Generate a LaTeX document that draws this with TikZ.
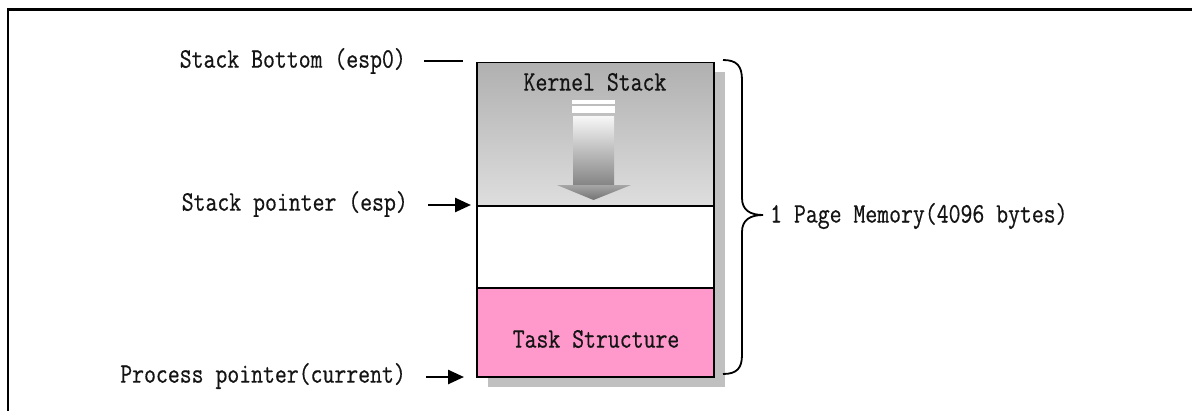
\documentclass[tikz,border=0pt]{standalone}
\usepackage{fontspec}
\usetikzlibrary{arrows.meta}
\newfontfamily\monofont{Latin Modern Mono}[FakeBold=0.6]
\definecolor{pinkfill}{HTML}{FF99CC}
\definecolor{shadowgray}{HTML}{C0C0C0}
\newcommand{\mylbl}[1]{\scalebox{1}[1.22]{\fontsize{23.1}{27}\monofont #1}}
\tikzset{
  sect/.style={draw, line width=1.5pt, anchor=north west, inner sep=0pt, outer sep=0pt, minimum width=237pt},
  lbl/.style={inner sep=0pt, text=black!92},
  ptr/.style={line width=2.5pt, -{Triangle[length=16pt,width=14pt]}},
}
\begin{document}
\begin{tikzpicture}[x=1pt,y=-1pt]
\useasboundingbox (0,0) rectangle (1192,410);
% outer frame
\draw[line width=2.5pt] (1193,9.5) -- (8,9.5) -- (8,411);
% shadow
\fill[shadowgray] (488,72) rectangle (725,387);
% sections
\node[sect, minimum height=143.5pt, top color=black!31, bottom color=black!13] (kernel) at (477,62.5) {};
\node[sect, minimum height=82pt, fill=white] (free) at (477,206) {};
\node[sect, minimum height=89pt, fill=pinkfill] (task) at (477,288) {};
\draw[line width=1.5pt] (kernel.north west) rectangle (task.south east);
% arrow in kernel stack
\fill[white] (572,100) rectangle (615,104);
\fill[white] (572,106) rectangle (615,113);
\shade[top color=black!3, bottom color=black!48] (573,116) rectangle (614,185);
\shade[top color=black!35, bottom color=black!55] (557,185) -- (631,185) -- (593.5,200) -- cycle;
% texts
\node[lbl] (ktext) at (595,82) {\mylbl{Kernel Stack}};
\node[lbl] (ttext) at (596,339) {\mylbl{Task Structure}};
\node[lbl, anchor=east] (bottom) at (406,61) {\mylbl{Stack Bottom (esp0)}};
\node[lbl, anchor=east] (sp) at (408,204) {\mylbl{Stack pointer (esp)}};
\node[lbl, anchor=east] (pp) at (406,376) {\mylbl{Process pointer(current)}};
\node[lbl, anchor=west] (page) at (770,216) {\mylbl{1 Page Memory(4096 bytes)}};
% pointers
\coordinate (bend) at (463,61);
\coordinate (spend) at (471,205);
\coordinate (ppend) at (464,377);
\draw[line width=1.5pt] ([xshift=18pt]bottom.east) -- (bend);
\draw[ptr] ([xshift=20pt,yshift=-1pt]sp.east) -- (spend);
\draw[ptr] ([xshift=20pt,yshift=-1pt]pp.east) -- (ppend);
% brace
\draw[line width=1.8pt] (723,60) .. controls (737,60) and (742,66) .. (742,80) -- (742,198)
  .. controls (742,210) and (750,215) .. (763,215)
  .. controls (750,215) and (742,220) .. (742,232) -- (742,355)
  .. controls (742,368) and (737,374) .. (723,374);
\end{tikzpicture}
\end{document}
